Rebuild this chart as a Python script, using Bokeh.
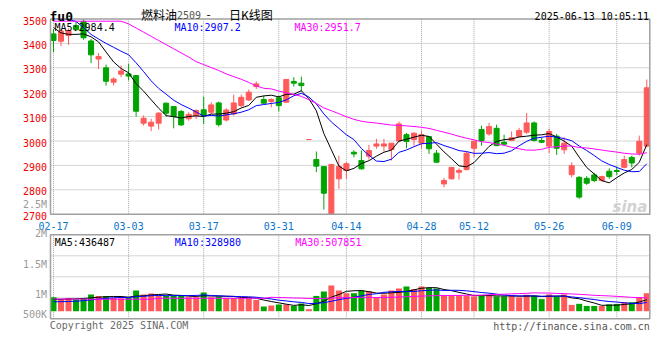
import numpy as np
import pandas as pd
from bokeh.plotting import figure
from bokeh.models import ColumnDataSource, Range1d
from bokeh.core.properties import value
from bokeh.embed import file_html
from bokeh.resources import INLINE

# ---------------- data ----------------
dates = ["02-17", "02-18", "02-19", "02-20", "02-21", "02-24", "02-25", "02-26", "02-27", "02-28",
         "03-03", "03-04", "03-05", "03-06", "03-07", "03-10", "03-11", "03-12", "03-13", "03-14",
         "03-17", "03-18", "03-19", "03-20", "03-21", "03-24", "03-25", "03-26", "03-27", "03-28",
         "03-31", "04-01", "04-02", "04-03", "04-07", "04-08", "04-09", "04-10", "04-11", "04-14",
         "04-15", "04-16", "04-17", "04-18", "04-21", "04-22", "04-23", "04-24", "04-25", "04-28",
         "04-29", "04-30", "05-06", "05-07", "05-08", "05-09", "05-12", "05-13", "05-14", "05-15",
         "05-16", "05-19", "05-20", "05-21", "05-22", "05-23", "05-26", "05-27", "05-28", "05-29",
         "05-30", "06-03", "06-04", "06-05", "06-06", "06-09", "06-10", "06-11", "06-12", "06-13"]

open_ = [3439, 3409, 3432, 3473, 3490, 3410, 3336, 3300, 3241, 3274,
         3275, 3268, 3073, 3061, 3073, 3155, 3141, 3121, 3091, 3104,
         3128, 3118, 3156, 3086, 3111, 3145, 3168, 3223, 3170, 3162,
         3177, 3159, 3244, 3237, 3006, 2924, 2895, 2680, 2845, 2879,
         2954, 2920, 2938, 2979, 2979, 2965, 3000, 3026, 3006, 2991,
         3018, 2950, 2824, 2845, 2872, 2883, 2970, 3047, 3029, 3052,
         2995, 3002, 3019, 3036, 3074, 3002, 2979, 3020, 2964, 2862,
         2851, 2847, 2861, 2838, 2876, 2879, 2892, 2933, 2950, 2979]

high = [3459, 3459, 3462, 3491, 3500, 3418, 3360, 3313, 3261, 3309,
        3316, 3270, 3105, 3091, 3118, 3157, 3143, 3128, 3118, 3130,
        3182, 3159, 3162, 3134, 3190, 3190, 3211, 3244, 3186, 3175,
        3186, 3252, 3261, 3264, 3006, 2957, 2895, 2906, 2940, 2913,
        2962, 2961, 2984, 3009, 3009, 2991, 3080, 3033, 3036, 3043,
        3018, 2963, 2849, 2892, 2888, 2957, 2999, 3063, 3074, 3067,
        3026, 3039, 3054, 3115, 3080, 3015, 3050, 3029, 3015, 2913,
        2856, 2856, 2869, 2858, 2888, 2895, 2940, 2940, 3022, 3252]

low = [3364, 3389, 3394, 3453, 3415, 3319, 3295, 3227, 3227, 3262,
       3248, 3100, 3063, 3040, 3047, 3100, 3052, 3062, 3083, 3090,
       3070, 3111, 3059, 3080, 3104, 3138, 3163, 3213, 3152, 3138,
       3121, 3156, 3223, 3203, 3006, 2872, 2719, 2660, 2804, 2845,
       2933, 2883, 2924, 2968, 2957, 2920, 2995, 2970, 2981, 2968,
       2947, 2913, 2810, 2842, 2842, 2879, 2933, 2981, 3022, 2979,
       2981, 3000, 3015, 3029, 2998, 2991, 2951, 2943, 2947, 2851,
       2763, 2820, 2831, 2834, 2845, 2861, 2888, 2892, 2940, 2974]

close = [3412, 3450, 3453, 3456, 3423, 3353, 3346, 3245, 3254, 3287,
         3266, 3122, 3093, 3077, 3114, 3114, 3100, 3066, 3109, 3125,
         3103, 3148, 3067, 3127, 3156, 3179, 3200, 3234, 3155, 3170,
         3145, 3252, 3237, 3227, 3006, 2897, 2786, 2904, 2895, 2907,
         2947, 2886, 2961, 2988, 2988, 2991, 3070, 2998, 3032, 3026,
         2968, 2913, 2838, 2892, 2879, 2950, 2999, 3002, 3059, 2981,
         2987, 3013, 3043, 3074, 3002, 2995, 3039, 2970, 2991, 2899,
         2770, 2827, 2838, 2854, 2854, 2875, 2924, 2910, 2999, 3218]

volume = [532000, 445000, 505000, 445000, 494000, 635000, 581000, 581000, 505000, 494000,
          505000, 787000, 635000, 673000, 581000, 581000, 581000, 581000, 532000, 532000,
          711000, 532000, 559000, 505000, 505000, 505000, 505000, 429000, 179000, 217000,
          255000, 255000, 201000, 293000, 76000, 581000, 749000, 977000, 787000, 684000,
          684000, 787000, 760000, 532000, 635000, 787000, 863000, 939000, 836000, 939000,
          893000, 866000, 589000, 611000, 611000, 589000, 562000, 589000, 611000, 562000,
          562000, 589000, 524000, 627000, 589000, 459000, 638000, 562000, 638000, 240000,
          280000, 200000, 200000, 200000, 260000, 277000, 342000, 342000, 532000, 684000]

# moving-average values before enough history is visible
ma5_head = [3465, 3443, 3437, 3437]
ma10_head = [3500, 3500, 3498, 3490, 3465, 3437, 3418, 3400, 3384]
ma30_head = [3491, 3491, 3491, 3491, 3491, 3491, 3491, 3491, 3491, 3491,
             3480, 3463, 3446, 3429, 3412, 3395, 3378, 3361, 3344, 3325,
             3313, 3301, 3289, 3275, 3264, 3253, 3240, 3226, 3216]
vma5_head = [450000, 450000, 460000, 470000]
vma10_head = [360000, 360000, 370000, 380000, 400000, 430000, 460000, 490000, 510000]
vma30_head = [462000, 462000, 462000, 462000, 462000, 455000, 455000, 455000, 455000, 455000,
              455000, 455000, 455000, 455000, 490000, 490000, 490000, 490000, 490000, 490000,
              490000, 490000, 490000, 490000, 490000, 490000, 490000, 490000, 490000]

tick_labels = ["02-17", "03-03", "03-17", "03-31", "04-14", "04-28", "05-12", "05-26", "06-09"]
price_ticks = [2700, 2800, 2900, 3000, 3100, 3200, 3300, 3400, 3500]
price_ma_text = ["MA5:2984.4", "MA10:2907.2", "MA30:2951.7"]
vol_ma_text = ["MA5:436487", "MA10:328980", "MA30:507851"]
vol_axis_text = ["2.5M", "2M", "1.5M", "1M", "500K"]
title_parts = ["燃料油", "2509", "-", "日K线图"]
symbol = "fu0"
stamp = "2025-06-13 10:05:11"
copyright_text = "Copyright 2025 SINA.COM"
url_text = "http://finance.sina.com.cn"

# ---------------- layout / styling ----------------
W, H = 660, 360
FR_L, FR_R = 50.0, 649.3          # panel left / right edges (px)
P_TOP, P_BOT = 18.5, 213.7        # price panel
V_TOP, V_BOT = 234.3, 318.3       # volume panel
V_BASE = 310.7                    # zero line of volume bars
X0_PX, I_PX = 53.0, 7.51          # first candle centre, candle pitch
P_MIN, P_MAX = 2700, 3500
VPX = 38000.0                     # volume per pixel

RED = "#ff5a5a"
GREEN = "#00a400"
GRID = "#a8a8a8"
BORDER = "#a0a0a0"
MONO = "DejaVu Sans Mono"
CJK = "Noto Sans CJK SC"
MA_COLORS = ["black", "#0000ff", "#ff00ff"]
PRICE_LABEL = "#ee0000"
DATE_LABEL = "#0a74cc"
VOL_LABEL = "#9a9a9a"


def moving(arr, n, head):
    s = pd.Series(arr, dtype=float).rolling(n).mean().to_numpy()
    s[:len(head)] = head
    return s


x = np.arange(len(dates))
o = np.array(open_, float)
c = np.array(close, float)
cols = np.where(c >= o, RED, GREEN)


def clip(a):
    return np.clip(a, P_MIN, P_MAX)


src = ColumnDataSource(dict(
    x=x, col=cols,
    h=clip(np.array(high, float)), l=clip(np.array(low, float)),
    top=clip(np.maximum(o, c)), bot=clip(np.minimum(o, c)),
    vol=np.array(volume, float),
    ma5=clip(moving(close, 5, ma5_head)), ma10=clip(moving(close, 10, ma10_head)),
    ma30=clip(moving(close, 30, ma30_head)),
    vma5=moving(volume, 5, vma5_head), vma10=moving(volume, 10, vma10_head),
    vma30=moving(volume, 30, vma30_head),
))
tick_pos = [dates.index(t) for t in tick_labels]

ppx = (P_BOT - P_TOP) / (P_MAX - P_MIN)
p = figure(width=W, height=H, x_range=Range1d(0, W), y_range=Range1d(H, 0),
           output_backend="svg", toolbar_location=None, title=None,
           x_axis_location=None, y_axis_location=None, min_border=0)
p.grid.visible = False
p.outline_line_color = None
p.background_fill_color = "white"
p.border_fill_color = "white"
p.extra_x_ranges = {"i": Range1d(-X0_PX / I_PX, (W - X0_PX) / I_PX)}
p.extra_y_ranges = {"price": Range1d(P_MIN - (H - P_BOT) / ppx, P_MIN + P_BOT / ppx),
                    "vol": Range1d(-(H - V_BASE) * VPX, V_BASE * VPX)}
i_l = (FR_L - X0_PX) / I_PX
i_r = (FR_R - X0_PX) / I_PX
v_bot = -(V_BOT - V_BASE) * VPX
v_top = (V_BASE - V_TOP) * VPX

# grids
inner = price_ticks[1:-1]
p.segment(x0=i_l, x1=i_r, y0=inner, y1=inner, x_range_name="i", y_range_name="price",
          line_color=GRID, line_dash="1 1", line_width=1)
p.segment(x0=tick_pos, x1=tick_pos, y0=P_MIN, y1=P_MAX, x_range_name="i", y_range_name="price",
          line_color=GRID, line_dash="1 1", line_width=1)
p.segment(x0=tick_pos, x1=tick_pos, y0=v_bot, y1=v_top, x_range_name="i", y_range_name="vol",
          line_color=GRID, line_dash="1 1", line_width=1)
vg = [V_TOP + (V_BOT - V_TOP) * k / 4 for k in (1, 2, 3)]
p.segment(x0=FR_L, x1=FR_R, y0=vg, y1=vg, line_color=GRID, line_dash="1 1", line_width=1)

# candles
p.segment(x0="x", y0="l", x1="x", y1="h", line_color="col", line_width=1, source=src,
          x_range_name="i", y_range_name="price")
p.vbar(x="x", width=0.67, top="top", bottom="bot", fill_color="col", line_color="col",
       line_width=1, source=src, x_range_name="i", y_range_name="price")
for key, colr in zip(["ma5", "ma10", "ma30"], MA_COLORS):
    p.line("x", key, line_color=colr, line_width=1, source=src, x_range_name="i", y_range_name="price")

# volume
p.vbar(x="x", width=0.8, top="vol", bottom=0, fill_color="col", line_color=None, source=src,
       x_range_name="i", y_range_name="vol")
for key, colr in zip(["vma5", "vma10", "vma30"], MA_COLORS):
    p.line("x", key, line_color=colr, line_width=1, source=src, x_range_name="i", y_range_name="vol")

# panel borders
p.quad(left=[FR_L, FR_L], right=[FR_R, FR_R], top=[P_TOP, V_TOP], bottom=[P_BOT, V_BOT],
       fill_color=None, line_color=BORDER, line_width=1.5)


# ---------------- texts ----------------
def txt(xs, ys, texts, color="black", size="10px", font=MONO, align="left", style="normal",
        **kw):
    p.text(x=xs, y=ys, text=texts, text_color=color, text_font=value(font),
           text_font_size=value(size), text_align=align, text_baseline="alphabetic",
           text_font_style=style, **kw)


# price axis labels
txt(46.5, price_ticks, [str(t) for t in price_ticks], color=PRICE_LABEL, align="right",
    y_range_name="price", y_offset=1.6)
# date axis labels
txt(tick_pos, 225.3, tick_labels, color=DATE_LABEL, align="center", x_range_name="i")
# volume axis labels (placed where the reference shows them)
txt(46.5, [204.0, 233.3, 264.3, 294.0, 314.3], vol_axis_text, color=VOL_LABEL, align="right")

# watermark (under the legends)
txt(612.0, 206.0, ["sina"], color="#d2d2d2", size="15px", font="DejaVu Sans", style="bold italic")

# header
txt(49, 16, [symbol], size="13px", style="bold")
txt(140.5, 14.2, [title_parts[0]], font=CJK, size="12px")
txt(176.5, 14.0, [title_parts[1]], color="#555555", size="10px")
txt(206.0, 14.2, [title_parts[2]], font=CJK, size="12px")
txt(228.5, 14.2, [title_parts[3]], font=CJK, size="12px")
txt(648.5, 15.7, [stamp], align="right")

# moving-average legends
for t, colr, xx in zip(price_ma_text, MA_COLORS, [54.0, 174.0, 294.0]):
    txt(xx, 27.3, [t], color=colr)
for t, colr, xx in zip(vol_ma_text, MA_COLORS, [54.3, 174.3, 294.7]):
    txt(xx, 241.7, [t], color=colr)

# footer
txt(49.3, 325.3, [copyright_text], color="#6a6a6a")
txt(649.3, 326.0, [url_text], color="#555555", align="right")

open("out.html", "w").write(file_html(p, INLINE))
